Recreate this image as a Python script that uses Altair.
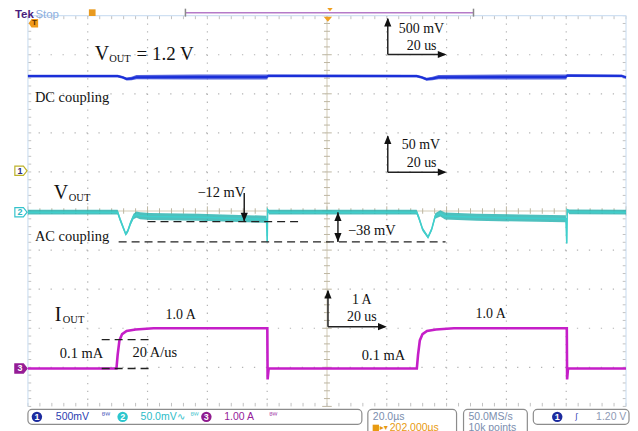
import altair as alt
import pandas as pd

# ---------------- data ----------------
# time base: 20 us/div, 10 divisions -> 0..200 us from the left graticule edge
# CH1: Vout, DC coupling, 500 mV/div (values in V)
CH1_T = [0, 30, 31.7, 33, 34.7, 36.3, 57, 79.8, 80.4, 130, 131.7, 133.3, 135.3, 137.3, 160, 179.8, 180.4, 198.5, 200]
CH1_V = [1.212, 1.212, 1.195, 1.175, 1.18, 1.198, 1.2, 1.2, 1.215, 1.212, 1.195, 1.172, 1.18, 1.198, 1.2, 1.2, 1.218, 1.214, 1.195]
CH1_N = [0.018, 0.018, 0.018, 0.02, 0.022, 0.028, 0.032, 0.032, 0.018, 0.018, 0.018, 0.02, 0.022, 0.028, 0.032, 0.032, 0.018, 0.018, 0.018]

# CH2: Vout, AC coupling, 50 mV/div (values in mV)
CH2_T = [0, 30, 30.7, 32, 32.7, 33.4, 34.3, 35.3, 36.3, 37.5, 40.7, 57, 70.7, 79.8, 80.0, 80.15, 80.6, 100, 130, 130.8,
         132, 133.8, 135, 136.2, 137.9, 139.5, 150, 165, 179.9, 180.2, 180.35, 181, 200]
CH2_V = [0, 0, -8, -21, -28, -24, -14, -5.5, -3, -4.5, -5.5, -6.5, -8, -9, -38, 3, 0, 0, 0, -8,
         -22, -32, -22, -5, -1.5, -5, -6.5, -7.5, -8.5, -40, 3, 0.5, 0]
CH2_N = [3, 3, 3, 2.5, 2, 2.5, 3, 3.5, 4, 4.5, 4.5, 4.5, 4.5, 4.5, 0.5, 1, 3, 3, 3, 3,
         2.5, 2, 2.5, 3.5, 4, 4.5, 4.5, 4.5, 4.5, 0.5, 1, 3, 3]

# CH3: Iout, 1 A/div (values in A)
CH3_T = [0, 29.6, 30.0, 30.6, 31.5, 33.0, 36.0, 42.0, 80.05, 80.15, 80.5, 130.05, 130.45, 131.05, 131.95, 133.45,
         136.45, 142.45, 180.2, 180.3, 180.6, 200]
CH3_I = [0, 0, 0.35, 0.72, 0.88, 0.96, 1.0, 1.03, 1.03, -0.28, 0, 0, 0.35, 0.72, 0.88, 0.96,
         1.0, 1.03, 1.03, -0.28, 0, 0]

CH_SCALE = {1: 0.5, 2: 50.0, 3: 1.0}     # units per division
CH_POS = {1: 1.03, 2: -0.03, 3: -4.03}   # ground position in divisions

AC_REF_MV = [-12, -38]
IOUT_REF_A = [0.74, 0.0]

ANNOT_TEXT = ["V", "OUT", "= 1.2 V", "DC coupling", "500 mV", "20 us", "50 mV", "20 us",
              "V", "OUT", "\u221212 mV", "AC coupling", "\u221238 mV",
              "I", "OUT", "1.0 A", "0.1 mA", "20 A/us", "1 A", "20 us", "1.0 A", "0.1 mA"]

STATUS_TEXT = ["500mV", "50.0mV\u223f", "1.00 A", "20.0\u00b5s", "202.000\u00b5s", "50.0MS/s", "10k points", "1.20 V"]

# ---------------- helpers ----------------
def gx(px):  # page pixel -> microseconds
    return (px - 28) / 3.0

def gy(py):  # page pixel -> divisions
    return (211 - py) / 39.2

def to_div(vals, ch):
    return [v / CH_SCALE[ch] + CH_POS[ch] for v in vals]

XS = alt.Scale(domain=[0, 200], nice=False, zero=False)
YS = alt.Scale(domain=[-5, 5], nice=False, zero=False)

def X(f="t"):
    return alt.X(f"{f}:Q", scale=XS, axis=None)

def Y(f="d"):
    return alt.Y(f"{f}:Q", scale=YS, axis=None)

X2 = alt.X2("t2:Q")
Y2 = alt.Y2("d2:Q")

layers = []

# ---------------- graticule ----------------
vg = pd.DataFrame({"t": [20 * k for k in range(1, 10) if k != 5]})
hg = pd.DataFrame({"d": [k for k in range(-4, 5) if k != 0]})
layers.append(alt.Chart(vg).mark_rule(color="#b4b4b4", strokeWidth=1.2, strokeDash=[1.3, 6.54]).encode(x=X()))
layers.append(alt.Chart(hg).mark_rule(color="#b4b4b4", strokeWidth=1.2, strokeDash=[1.3, 10.7]).encode(y=Y()))
layers.append(alt.Chart(pd.DataFrame({"t": [100]})).mark_rule(color="#e9e5da", strokeWidth=2).encode(x=X()))
layers.append(alt.Chart(pd.DataFrame({"d": [0]})).mark_rule(color="#e9e5da", strokeWidth=2).encode(y=Y()))

ct = []
for k in range(-25, 26):
    w = 1.0 if k % 5 else 1.6
    ct.append({"t": 100 - w, "t2": 100 + w, "d": k / 5, "d2": k / 5})
for k in range(0, 51):
    w = 0.07 if k % 5 else 0.12
    ct.append({"t": 4 * k, "t2": 4 * k, "d": -w, "d2": w})
layers.append(alt.Chart(pd.DataFrame(ct)).mark_rule(color="#bdb6a2", strokeWidth=1).encode(x=X(), x2=X2, y=Y(), y2=Y2))

et = []
for k in range(-25, 26):
    et.append({"t": 0, "t2": 1.1, "d": k / 5, "d2": k / 5})
    et.append({"t": 198.9, "t2": 200, "d": k / 5, "d2": k / 5})
for k in range(0, 51):
    et.append({"t": 4 * k, "t2": 4 * k, "d": 5, "d2": 4.91})
    et.append({"t": 4 * k, "t2": 4 * k, "d": -5, "d2": -4.91})
layers.append(alt.Chart(pd.DataFrame(et)).mark_rule(color="#c2c2c2", strokeWidth=1).encode(x=X(), x2=X2, y=Y(), y2=Y2))

border = pd.DataFrame([
    {"t": 0, "t2": 0, "d": -5, "d2": 5}, {"t": 200, "t2": 200, "d": -5, "d2": 5},
    {"t": 0, "t2": 200, "d": 5, "d2": 5},
])
layers.append(alt.Chart(border).mark_rule(color="#cfe0f2", strokeWidth=1.2).encode(x=X(), x2=X2, y=Y(), y2=Y2))

# ---------------- traces ----------------
ch1 = pd.DataFrame({"t": CH1_T, "d": to_div(CH1_V, 1),
                    "lo": to_div([v - n for v, n in zip(CH1_V, CH1_N)], 1),
                    "hi": to_div([v + n for v, n in zip(CH1_V, CH1_N)], 1)})
ch2 = pd.DataFrame({"t": CH2_T, "d": to_div(CH2_V, 2),
                    "lo": to_div([v - n for v, n in zip(CH2_V, CH2_N)], 2),
                    "hi": to_div([v + n for v, n in zip(CH2_V, CH2_N)], 2)})
ch3 = pd.DataFrame({"t": CH3_T, "d": to_div(CH3_I, 3)})

layers.append(alt.Chart(ch1).mark_area(color="#3344d8", opacity=0.85).encode(x=X(), y=Y("lo"), y2=alt.Y2("hi:Q")))
layers.append(alt.Chart(ch1).mark_line(color="#1a2fd8", strokeWidth=2).encode(x=X(), y=Y()))
layers.append(alt.Chart(ch2).mark_area(color="#22b0ae", opacity=0.8).encode(x=X(), y=Y("lo"), y2=alt.Y2("hi:Q")))
layers.append(alt.Chart(ch2).mark_line(color="#3fcfcc", strokeWidth=1.6).encode(x=X(), y=Y()))
layers.append(alt.Chart(ch3).mark_line(color="#c51ec8", strokeWidth=2.6).encode(x=X(), y=Y()))

# ---------------- annotations ----------------
refs = pd.DataFrame([
    {"t": gx(148), "t2": gx(302), "d": to_div([AC_REF_MV[0]], 2)[0]},
    {"t": gx(119), "t2": gx(447), "d": to_div([AC_REF_MV[1]], 2)[0]},
    {"t": gx(102), "t2": gx(152), "d": to_div([IOUT_REF_A[0]], 3)[0]},
    {"t": gx(102), "t2": gx(152), "d": to_div([IOUT_REF_A[1]], 3)[0]},
])
layers.append(alt.Chart(refs).mark_rule(color="#222", strokeWidth=1.3, strokeDash=[8, 5]).encode(x=X(), x2=X2, y=Y()))

ann_pos = [(95, 59, 20), (109.5, 61, 10.5), (137, 59, 19), (35, 101.7, 14.5), (400, 32.5, 14), (408, 49, 14),
           (403, 149, 14), (408, 166.7, 14), (54, 199, 20), (69, 201, 10.5), (198, 196.7, 14.5), (35, 241, 14.5),
           (349, 235, 14.5), (55, 321, 20), (63, 323, 10.5), (166, 319, 14), (60, 358.3, 14.5), (133, 357.3, 14.5),
           (353, 304, 14), (348, 321, 14), (477, 318.3, 14), (363, 360, 14.5)]
ann = pd.DataFrame({"text": ANNOT_TEXT, "t": [gx(p[0]) for p in ann_pos],
                    "d": [gy(p[1]) for p in ann_pos], "fs": [p[2] for p in ann_pos]})
layers.append(alt.Chart(ann).mark_text(align="left", baseline="alphabetic", font="Liberation Serif", color="#111").encode(
    x=X(), y=Y(), text="text:N", size=alt.Size("fs:Q", scale=None)))

d_m12 = to_div([AC_REF_MV[0]], 2)[0]
d_m38 = to_div([AC_REF_MV[1]], 2)[0]
d_0 = to_div([0], 2)[0]
shafts = pd.DataFrame([
    {"t": gx(389), "t2": gx(389), "d": gy(54), "d2": gy(18)},
    {"t": gx(389), "t2": gx(446), "d": gy(54), "d2": gy(54)},
    {"t": gx(389), "t2": gx(389), "d": gy(172), "d2": gy(136)},
    {"t": gx(389), "t2": gx(446), "d": gy(172), "d2": gy(172)},
    {"t": gx(329), "t2": gx(329), "d": gy(327), "d2": gy(291)},
    {"t": gx(329), "t2": gx(386), "d": gy(327), "d2": gy(327)},
    {"t": gx(245), "t2": gx(245), "d": gy(193), "d2": d_m12},
    {"t": gx(339), "t2": gx(339), "d": d_0, "d2": d_m38},
])
layers.append(alt.Chart(shafts).mark_rule(color="#222", strokeWidth=1.5).encode(x=X(), x2=X2, y=Y(), y2=Y2))

UP = "M0,0L-0.45,1.1L0.45,1.1Z"
DOWN = "M0,0L-0.45,-1.1L0.45,-1.1Z"
RIGHT = "M0,0L-1.1,-0.45L-1.1,0.45Z"
heads_up = pd.DataFrame({"t": [gx(389), gx(389), gx(329), gx(339)], "d": [gy(17), gy(135), gy(290), d_0]})
heads_down = pd.DataFrame({"t": [gx(245), gx(339)], "d": [d_m12, d_m38]})
heads_right = pd.DataFrame({"t": [gx(448), gx(448), gx(388)], "d": [gy(54), gy(172), gy(327)]})
for df, shp in ((heads_up, UP), (heads_down, DOWN), (heads_right, RIGHT)):
    layers.append(alt.Chart(df).mark_point(shape=shp, filled=True, color="#111", size=256, opacity=1).encode(x=X(), y=Y()))

# ---------------- scope chrome ----------------
PENT = "M-1,-0.75L0.4,-0.75L1,0L0.4,0.75L-1,0.75Z"
PENT_L = "M1,-0.9L-0.4,-0.9L-1,0L-0.4,0.9L1,0.9Z"
mk = pd.DataFrame({"t": [gx(21)] * 3, "d": [CH_POS[1], CH_POS[2], CH_POS[3]],
                   "fill": ["#ffffff", "#ffffff", "#951c95"], "stroke": ["#bdb22a", "#34c3cc", "#951c95"],
                   "txt": ["1", "2", "3"], "tc": ["#2a2a80", "#2bb8c4", "#ffffff"]})
layers.append(alt.Chart(mk).mark_point(shape=PENT, filled=True, size=150, opacity=1, strokeWidth=1.2).encode(
    x=X(), y=Y(), fill=alt.Fill("fill:N", scale=None), stroke=alt.Stroke("stroke:N", scale=None)))
layers.append(alt.Chart(mk).mark_text(font="Liberation Sans", fontSize=9, fontWeight="bold", dx=-1).encode(
    x=X(), y=Y(), text="txt:N", color=alt.Color("tc:N", scale=None)))

tmark = pd.DataFrame({"t": [gx(33.5)], "d": [gy(22.5)]})
layers.append(alt.Chart(tmark).mark_point(shape=PENT_L, filled=True, size=90, color="#ef9a1a", opacity=1).encode(x=X(), y=Y()))
layers.append(alt.Chart(tmark).mark_text(text="T", font="Liberation Sans", fontSize=8, fontWeight="bold", color="#5a3000", dx=1).encode(x=X(), y=Y()))

trig = pd.DataFrame({"t": [100.3, 101], "d": [gy(18.5), gy(9)], "s": [70, 30]})
layers.append(alt.Chart(trig).mark_point(shape="M-1,-0.6L1,-0.6L0,0.6Z", filled=True, color="#f0a020", opacity=1).encode(
    x=X(), y=Y(), size=alt.Size("s:Q", scale=None)))

bar = pd.DataFrame([{"t": gx(186), "t2": gx(475), "d": gy(12), "d2": gy(12), "c": "#b57ac8"},
                    {"t": gx(186), "t2": gx(186), "d": gy(8), "d2": gy(16), "c": "#8a8a8a"},
                    {"t": gx(475), "t2": gx(475), "d": gy(8), "d2": gy(16), "c": "#8a8a8a"}])
layers.append(alt.Chart(bar).mark_rule(strokeWidth=1.5).encode(x=X(), x2=X2, y=Y(), y2=Y2, color=alt.Color("c:N", scale=None)))

icon = pd.DataFrame({"t": [gx(92.5)], "d": [gy(12)]})
layers.append(alt.Chart(icon).mark_point(shape="square", filled=True, size=45, color="#e89a20", opacity=1).encode(x=X(), y=Y()))

top_txt = pd.DataFrame({"text": ["Tek", "Stop"], "t": [gx(15), gx(35.5)], "d": [gy(14), gy(14)],
                        "c": ["#4a1d7c", "#8db0e0"]})
layers.append(alt.Chart(top_txt.iloc[[0]]).mark_text(align="left", baseline="middle", font="Liberation Sans", fontSize=11.5, fontWeight="bold").encode(
    x=X(), y=Y(), text="text:N", color=alt.Color("c:N", scale=None)))
layers.append(alt.Chart(top_txt.iloc[[1]]).mark_text(align="left", baseline="middle", font="Liberation Sans", fontSize=11.5).encode(
    x=X(), y=Y(), text="text:N", color=alt.Color("c:N", scale=None)))

boxes = pd.DataFrame([
    {"t": gx(28), "t2": gx(363), "d": gy(410), "d2": gy(425)},
    {"t": gx(369), "t2": gx(458), "d": gy(410), "d2": gy(445)},
    {"t": gx(465), "t2": gx(529), "d": gy(410), "d2": gy(445)},
    {"t": gx(535), "t2": gx(631), "d": gy(410), "d2": gy(425)},
])
layers.append(alt.Chart(boxes).mark_rect(fill="#ffffff", stroke="#8c8c8c", strokeWidth=1.2, cornerRadius=4).encode(
    x=X(), x2=X2, y=Y(), y2=Y2))

ROW1, ROW2 = 417.5, 428.5
circ = pd.DataFrame({"t": [gx(37), gx(123), gx(207), gx(559)], "d": [gy(ROW1)] * 4,
                     "c": ["#1c2b9e", "#2cc6ce", "#8f1c8f", "#1c2b9e"], "txt": ["1", "2", "3", "1"]})
layers.append(alt.Chart(circ).mark_point(shape="circle", filled=True, size=110, opacity=1).encode(
    x=X(), y=Y(), color=alt.Color("c:N", scale=None)))
layers.append(alt.Chart(circ).mark_text(font="Liberation Sans", fontSize=9, fontWeight="bold", color="#ffffff").encode(
    x=X(), y=Y(), text="txt:N"))

st_pos = [(56, ROW1, "#2a3db0"), (141, ROW1, "#2bbcc8"), (225, ROW1, "#95209a"), (374, ROW1, "#7b8eae"),
          (391, ROW2, "#e89a10"), (470, ROW1, "#7b8eae"), (470, ROW2, "#7b8eae"), (598, ROW1, "#8e9ab4")]
st = pd.DataFrame({"text": STATUS_TEXT, "t": [gx(p[0]) for p in st_pos], "d": [gy(p[1]) for p in st_pos],
                   "c": [p[2] for p in st_pos]})
layers.append(alt.Chart(st).mark_text(align="left", baseline="middle", font="Liberation Sans", fontSize=10.5).encode(
    x=X(), y=Y(), text="text:N", color=alt.Color("c:N", scale=None)))

icons = pd.DataFrame({"text": ["\u1d2e\u1d42", "\u1d2e\u1d42", "\u1d2e\u1d42", "\u25b8\u25be", "\u0283"],
                      "t": [gx(102), gx(191), gx(270), gx(381), gx(577)],
                      "d": [gy(ROW1 - 1), gy(ROW1 - 1), gy(ROW1 - 1), gy(ROW2), gy(ROW1)],
                      "c": ["#2a3db0", "#2bbcc8", "#95209a", "#e89a10", "#2a3db0"]})
layers.append(alt.Chart(icons).mark_text(align="left", baseline="middle", font="DejaVu Sans", fontSize=8).encode(
    x=X(), y=Y(), text="text:N", color=alt.Color("c:N", scale=None)))

tbox = pd.DataFrame({"t": [gx(377)], "d": [gy(ROW2)]})
layers.append(alt.Chart(tbox).mark_point(shape="square", filled=True, size=40, color="#e89a10", opacity=1).encode(x=X(), y=Y()))

chart = alt.layer(*layers).properties(
    width=600, height=392,
    autosize=alt.AutoSizeParams(type="none"),
    padding={"left": 20, "top": 7, "right": 4, "bottom": 24},
    background="white",
).configure_view(stroke=None)

chart.save("out.html", embed_options={"renderer": "svg", "actions": False})
